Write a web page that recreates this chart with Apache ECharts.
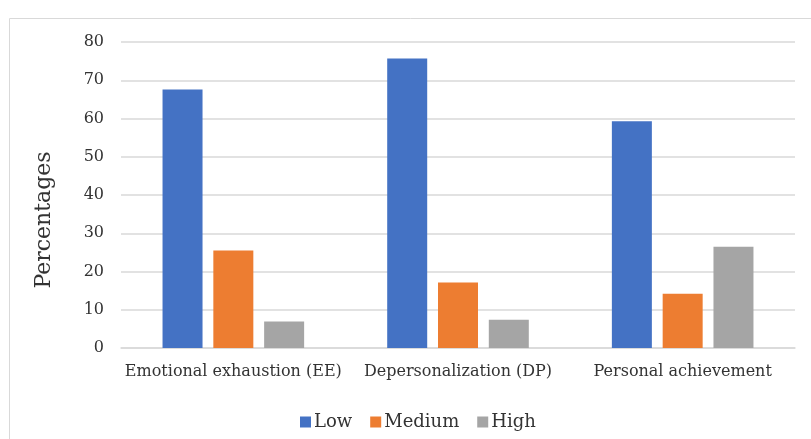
<!DOCTYPE html>
<html><head><meta charset="utf-8">
<script src="https://cdn.jsdelivr.net/npm/echarts@6/dist/echarts.min.js"></script>
<style>html,body{margin:0;padding:0;background:#fff}#c{width:811px;height:439px}</style>
</head><body><div id="c"></div>
<script>
var categories = ['Emotional exhaustion (EE)', 'Depersonalization (DP)', 'Personal achievement'];
var seriesNames = ['Low', 'Medium', 'High'];
var lowValues = [67.6, 75.7, 59.3];
var mediumValues = [25.5, 17.1, 14.2];
var highValues = [6.9, 7.4, 26.5];
var colors = ['#4472C4', '#ED7D31', '#A5A5A5'];
var font = '"DejaVu Serif", "Liberation Serif", serif';

var chart = echarts.init(document.getElementById('c'));
var values = [lowValues, mediumValues, highValues];
chart.setOption({
  animation: false,
  textStyle: {fontFamily: font},
  graphic: [{type: 'rect', shape: {x: 9.5, y: 18.5, width: 820, height: 440}, style: {fill: 'none', stroke: '#d9d9d9', lineWidth: 1}}],
  grid: {left: 121, right: 16, top: 42, bottom: 91},
  legend: {
    data: seriesNames, left: 295, top: 408, itemWidth: 11, itemHeight: 11, itemGap: 18,
    icon: 'rect',
    textStyle: {fontFamily: font, fontSize: 18, color: '#333333', padding: [0,0,0,-2]}
  },
  xAxis: {
    type: 'category', data: categories,
    axisLine: {lineStyle: {color: '#d9d9d9', width: 1.5}},
    axisTick: {show: false},
    axisLabel: {interval: 0, fontFamily: font, fontSize: 16, color: '#333333', margin: 16}
  },
  yAxis: {
    type: 'value', min: 0, max: 80, interval: 10,
    name: 'Percentages', nameLocation: 'middle', nameGap: 66, nameRotate: 90,
    nameTextStyle: {fontFamily: font, fontSize: 22, color: '#333333', padding: [0, 50, 0, 0]},
    axisLine: {show: false}, axisTick: {show: false},
    axisLabel: {fontFamily: font, fontSize: 16, color: '#333333', margin: 17},
    splitLine: {lineStyle: {color: '#d9d9d9', width: 1.5}}
  },
  series: seriesNames.map(function (n, i) {
    return {name: n, type: 'bar', data: values[i], barWidth: 40, barGap: '27%', itemStyle: {color: colors[i]}};
  })
});
</script></body></html>
